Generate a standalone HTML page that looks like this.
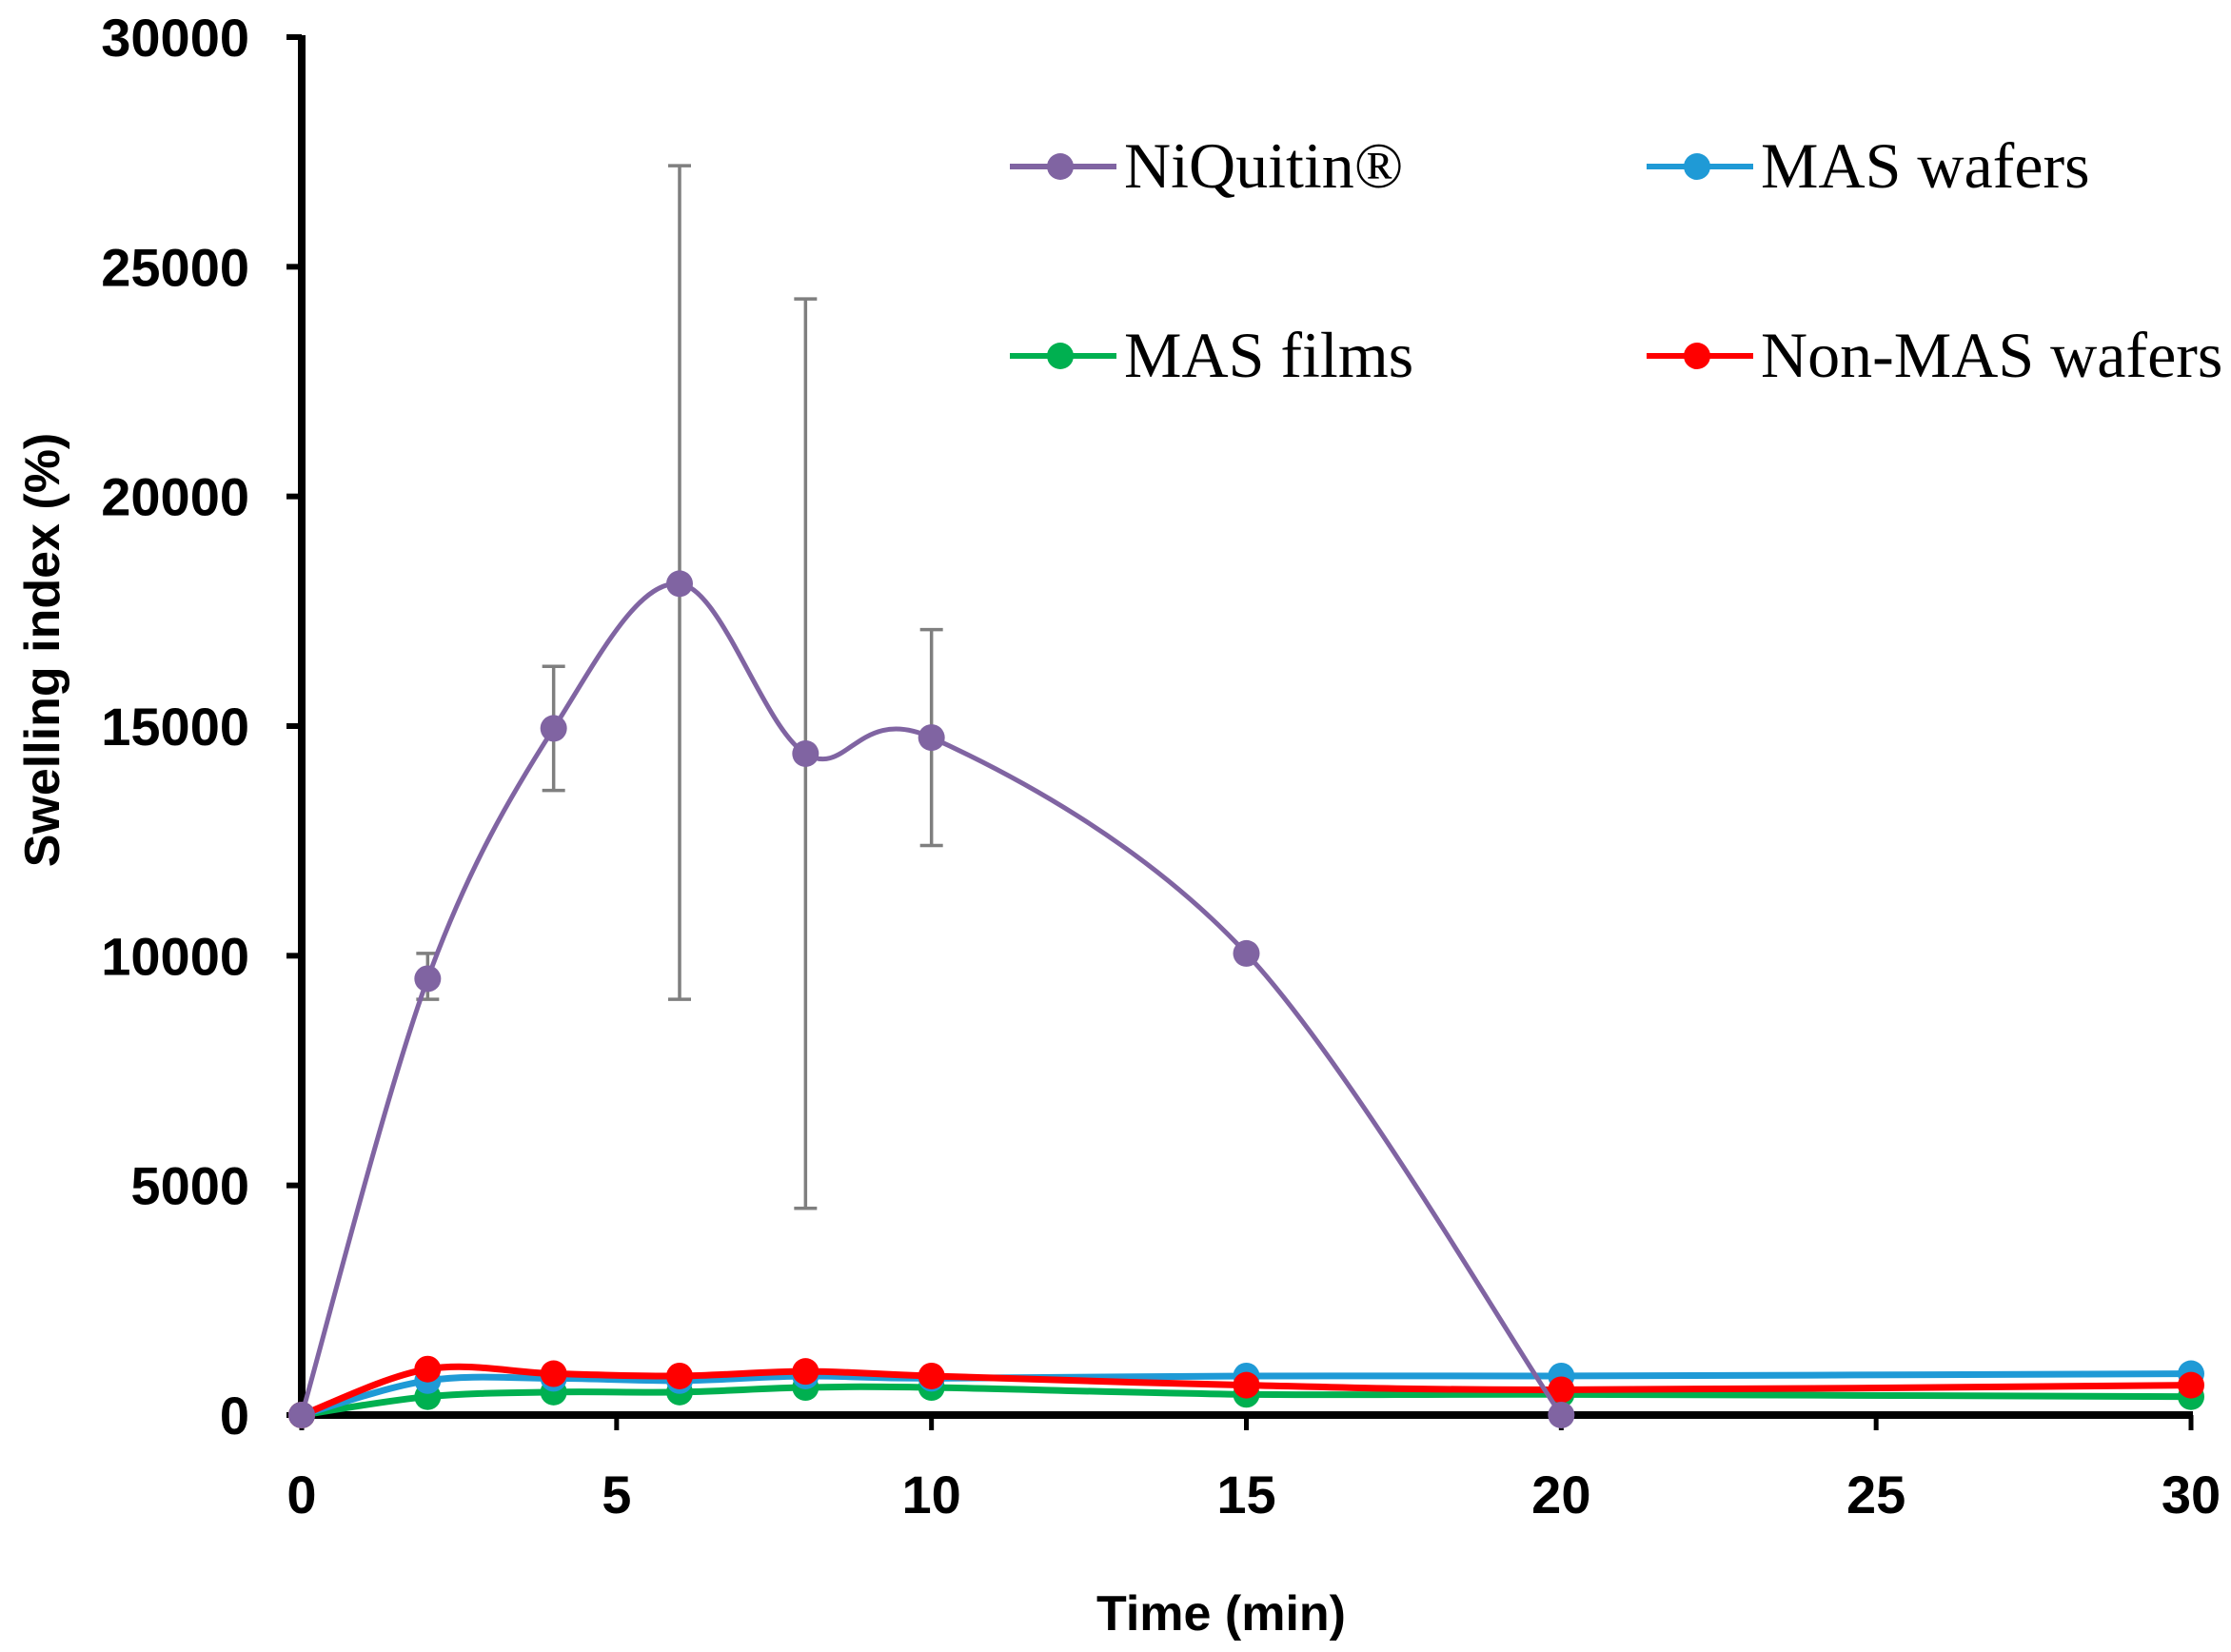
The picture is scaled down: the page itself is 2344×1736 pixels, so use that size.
<!DOCTYPE html>
<html><head><meta charset="utf-8"><style>
html,body{margin:0;padding:0;background:#fff;}
svg{display:block;}
.t{font-family:"Liberation Sans",sans-serif;font-weight:bold;font-size:56px;fill:#000;}
.a{font-family:"Liberation Sans",sans-serif;font-weight:bold;font-size:52px;fill:#000;}
.l{font-family:"Liberation Serif",serif;font-size:68px;fill:#000;}
</style></head><body>
<svg id="s" width="2344" height="1736" viewBox="0 0 2344 1736" xmlns="http://www.w3.org/2000/svg">
<g id="g"></g>
</svg>
<script>
const X0=317,X1=2302,Y0=1487,Y1=39;
const fx=t=>X0+(X1-X0)*t/30, fy=v=>Y0-(Y0-Y1)*v/30000;
const ts=[0,2,4,6,8,10,15,20,30];
const series=[
 {c:'#00b050',w:7,d:[0,400,500,500,600,600,450,450,400]},
 {c:'#1f9ad6',w:7,d:[0,750,800,750,850,800,850,850,900]},
 {c:'#ff0000',w:7,d:[0,1000,900,850,950,850,650,550,650]},
 {c:'#8064a2',w:5,d:[0,9500,14950,18100,14400,14750,10050,0],tt:[0,2,4,6,8,10,15,20]},
];
let h='';
function path(pts){let s=`M${pts[0][0]},${pts[0][1]}`;
 for(let i=0;i<pts.length-1;i++){const p0=pts[Math.max(i-1,0)],p1=pts[i],p2=pts[i+1],p3=pts[Math.min(i+2,pts.length-1)];
 const k=6;s+=` C${p1[0]+(p2[0]-p0[0])/k},${p1[1]+(p2[1]-p0[1])/k} ${p2[0]-(p3[0]-p1[0])/k},${p2[1]-(p3[1]-p1[1])/k} ${p2[0]},${p2[1]}`;}return s;}
h+=`<line x1="${X0}" y1="${Y1-2}" x2="${X0}" y2="${Y0+4}" stroke="#000" stroke-width="8"/>`;
h+=`<line x1="${X0-4}" y1="${Y0}" x2="${X1+2}" y2="${Y0}" stroke="#000" stroke-width="8"/>`;
for(let v=0;v<=30000;v+=5000){const y=fy(v);h+=`<line x1="${X0-16}" y1="${y}" x2="${X0}" y2="${y}" stroke="#000" stroke-width="6"/>`;
 h+=`<text class="t" x="262" y="${y+20}" text-anchor="end">${v}</text>`;}
for(let t=0;t<=30;t+=5){const x=fx(t);h+=`<line x1="${x}" y1="${Y0}" x2="${x}" y2="${Y0+16}" stroke="#000" stroke-width="5"/>`;
 h+=`<text class="t" x="${x}" y="1590" text-anchor="middle">${t}</text>`;}
h+=`<text class="a" x="1283" y="1713" text-anchor="middle">Time (min)</text>`;
h+=`<text class="a" transform="translate(62,683) rotate(-90)" text-anchor="middle">Swelling index (%)</text>`;
[[2,9050,10050],[4,13600,16300],[6,9050,27200],[8,4500,24300],[10,12400,17100]].forEach(e=>{const x=fx(e[0]);
 h+=`<line x1="${x}" y1="${fy(e[1])}" x2="${x}" y2="${fy(e[2])}" stroke="#7f7f7f" stroke-width="3.5"/>`;
 [e[1],e[2]].forEach(v=>h+=`<line x1="${x-12}" y1="${fy(v)}" x2="${x+12}" y2="${fy(v)}" stroke="#7f7f7f" stroke-width="3.5"/>`);});
series.forEach(s=>{const tt=s.tt||ts;const pts=s.d.map((v,i)=>[fx(tt[i]),fy(v)]);
 h+=`<path d="${path(pts)}" fill="none" stroke="${s.c}" stroke-width="${s.w}"/>`;
 pts.forEach(p=>h+=`<circle cx="${p[0]}" cy="${p[1]}" r="14" fill="${s.c}"/>`);});
[[1061,175,'#8064a2','NiQuitin®'],[1730,175,'#1f9ad6','MAS wafers'],[1061,374,'#00b050','MAS films'],[1730,374,'#ff0000','Non-MAS wafers']].forEach(l=>{
 h+=`<line x1="${l[0]}" y1="${l[1]}" x2="${l[0]+112}" y2="${l[1]}" stroke="${l[2]}" stroke-width="6"/>`;
 h+=`<circle cx="${l[0]+53}" cy="${l[1]}" r="14" fill="${l[2]}"/>`;
 h+=`<text class="l" x="${l[0]+120}" y="${l[1]+22}">${l[3]}</text>`;});
document.getElementById('g').innerHTML=h;
</script>
</body></html>
